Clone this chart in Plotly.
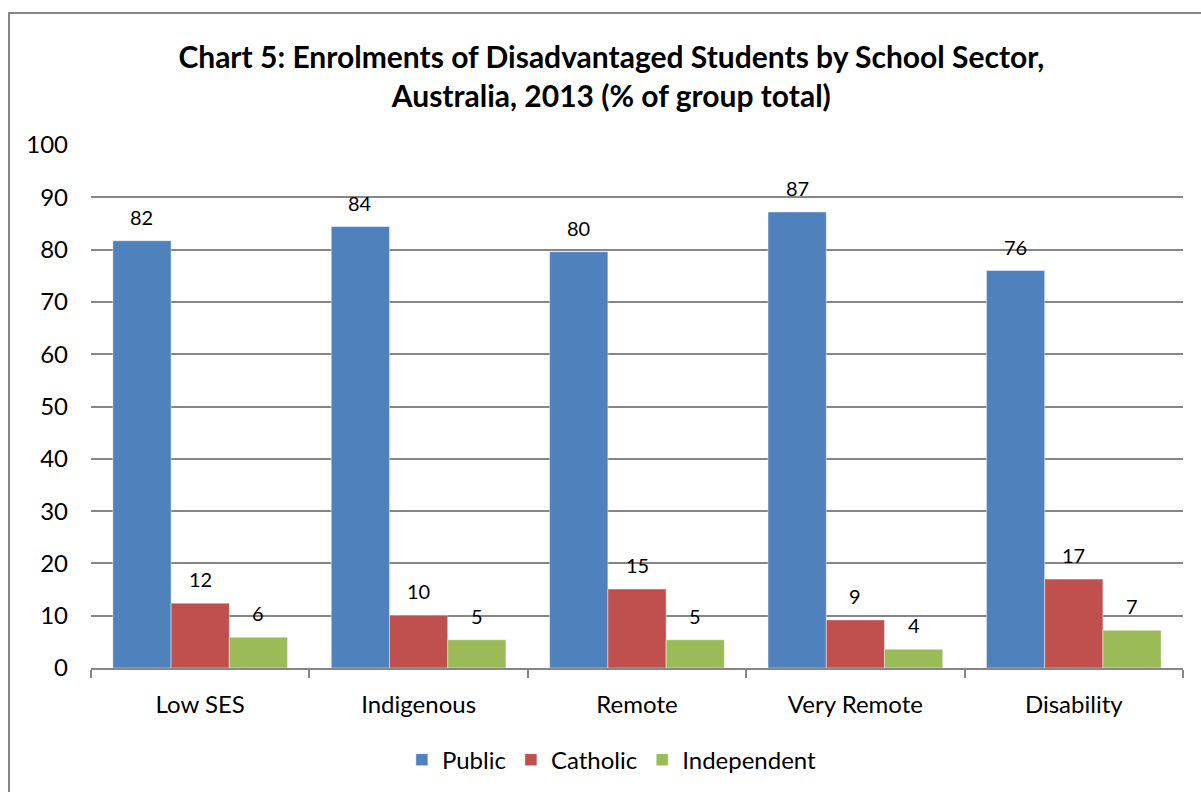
import plotly.graph_objects as go

# Enrolment shares (% of each group total) by school sector
categories = ["Low SES", "Indigenous", "Remote", "Very Remote", "Disability"]
public = [81.7, 84.4, 79.6, 87.2, 76.0]
catholic = [12.4, 10.1, 15.1, 9.2, 17.0]
independent = [5.9, 5.4, 5.4, 3.6, 7.2]
y_ticks = [0, 10, 20, 30, 40, 50, 60, 70, 80, 90, 100]

series = [
    ("Public", public, "#4F81BD"),
    ("Catholic", catholic, "#C0504D"),
    ("Independent", independent, "#9BBB59"),
]

FONT = "Lato, Open Sans, sans-serif"

fig = go.Figure()
for name, vals, color in series:
    fig.add_trace(go.Bar(
        name=name, x=categories, y=vals,
        marker=dict(color=color, line=dict(color="rgba(255,255,255,0.45)", width=1)),
    ))

# Value labels above each bar
bargap = 0.2
n = len(series)
for s_idx, (name, vals, color) in enumerate(series):
    offset = (s_idx - (n - 1) / 2) * (1 - bargap) / n
    for c_idx, v in enumerate(vals):
        fig.add_annotation(
            x=c_idx + offset, y=v, text=f"{v:.0f}", showarrow=False,
            yanchor="middle", yshift=24,
            font=dict(family=FONT, size=20, color="#000000"),
        )

fig.update_layout(
    width=1201, height=792,
    margin=dict(l=91, r=18, t=145, b=124, autoexpand=False),
    paper_bgcolor="white", plot_bgcolor="white",
    barmode="group", bargap=bargap, bargroupgap=0,
    title=dict(
        text="<b>Chart 5: Enrolments of Disadvantaged Students by School Sector,<br>Australia, 2013 (% of group total)</b>",
        x=0.509, xanchor="center", y=1 - 68 / 792, yanchor="middle",
        font=dict(family=FONT, size=30, color="#000000"),
    ),
    font=dict(family=FONT, color="#000000"),
    legend=dict(
        orientation="h", x=0.477, xanchor="center", y=-0.176, yanchor="middle",
        font=dict(family=FONT, size=24, color="#000000"),
        itemwidth=30, traceorder="normal",
    ),
    xaxis=dict(
        type="category", tickson="boundaries", ticks="outside", ticklen=8,
        tickcolor="#868686", tickwidth=2,
        showline=True, linecolor="#868686", linewidth=2,
        showgrid=False,
        tickfont=dict(family=FONT, size=24, color="#000000"),
        ticklabelstandoff=14,
    ),
    yaxis=dict(
        range=[0, 100], tickvals=y_ticks,
        showgrid=True, gridcolor="#868686", gridwidth=2,
        zeroline=False, showline=False, ticks="",
        tickfont=dict(family=FONT, size=24, color="#000000"),
        ticklabelstandoff=22,
    ),
    shapes=[dict(
        type="rect", xref="paper", yref="paper",
        x0=(9 - 91) / 1092, x1=(1215 - 91) / 1092,
        y0=(668 - 805) / 523, y1=(668 - 13) / 523,
        line=dict(color="#868686", width=2), fillcolor="rgba(0,0,0,0)", layer="below",
    )],
)

fig.write_html("out.html")
